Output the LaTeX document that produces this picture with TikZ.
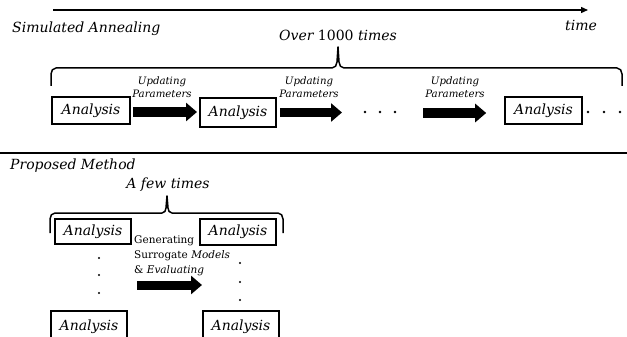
\documentclass[tikz,border=0pt]{standalone}
\usepackage{fontspec}
\setmainfont{DejaVu Serif}
\usetikzlibrary{arrows.meta}
\begin{document}
\begin{tikzpicture}[x=1pt,y=-1pt,
  box/.style={draw, line width=1.6pt, inner sep=0pt, font=\fontsize{14}{16}\selectfont\itshape},
  blockarrow/.style={line width=9pt, -{Triangle[width=18pt,length=11pt]}},
  lbl/.style={font=\fontsize{10.2}{12.5}\selectfont\itshape, align=center, inner sep=0pt},
  ttl/.style={font=\fontsize{14}{16}\selectfont\itshape, inner sep=0pt},
  dot/.style={fill, circle, inner sep=0pt, minimum size=2.6pt},
  brace/.style={line width=1.5pt, line join=round}]
\clip (0,0) rectangle (627,337);
\useasboundingbox (0,0) rectangle (627,337);
\fill[white] (0,0) rectangle (627,337);

% time arrow
\coordinate (t0) at (53,10);
\coordinate (t1) at (588,10);
\draw[line width=1.3pt, -{Triangle[width=6pt,length=7pt]}] (t0) -- (t1);
\node[ttl] (time) at (581,25) {time};
\node[ttl, anchor=west] (sa) at (12,29) {Simulated Annealing};
\node[ttl] (over) at (338,35) {Over \upshape 1000 \itshape times};

% top brace
\draw[brace] (51,86) -- (51,74) to[out=90,in=180] (56,68) -- (332,68)
  to[out=0,in=-90] (337,62) -- (338,47) -- (339,62) to[out=-90,in=180] (344,68)
  -- (617,68) to[out=0,in=90] (622,74) -- (622,86);

% row 1 boxes
\node[box, minimum width=78pt, minimum height=27pt] (a1) at (91,110.5) {Analysis};
\node[box, minimum width=76pt, minimum height=29pt] (a2) at (238,112.5) {Analysis};
\node[box, minimum width=77pt, minimum height=27pt] (a3) at (543.5,110.5) {Analysis};
\foreach \x/\n in {365/p1,380/p2,395/p3,588/q1,604/q2,620/q3} \node[dot] (\n) at (\x,112) {};
\coordinate (s3) at (423,113);

\draw[blockarrow] (a1.east |- 0,112) ++(2,0) coordinate (e1) -- (197,112);
\draw[blockarrow] (a2.east) ++(3,0) -- (342,112.5);
\draw[blockarrow] (s3) -- ([xshift=-18pt]a3.west |- s3);

\node[lbl] (u1) at (162,87) {Updating\\Parameters};
\node[lbl] (u2) at (309,87) {Updating\\Parameters};
\node[lbl] (u3) at (455,87) {Updating\\Parameters};

% separator
\draw[line width=1.8pt] (0,153) -- (627,153);
\node[ttl, anchor=west] (pm) at (10,166) {Proposed Method};
\node[ttl] (few) at (168,185) {A few times};

% lower brace
\draw[brace] (50,233) -- (50,219) to[out=90,in=180] (55,213) -- (162,213)
  to[out=0,in=-90] (166,208) -- (167,196) -- (168,208) to[out=-90,in=180] (172,213)
  -- (278,213) to[out=0,in=90] (283,219) -- (283,233);

% lower boxes
\node[box, minimum width=76pt, minimum height=25pt] (b1) at (93,231.5) {Analysis};
\node[box, minimum width=76pt, minimum height=26pt] (c1) at (238,232) {Analysis};
\node[box, minimum width=76pt, minimum height=32pt, anchor=north] (b2) at (89,310) {Analysis};
\node[box, minimum width=76pt, minimum height=32pt, anchor=north] (c2) at (241,310) {Analysis};

\foreach \y/\n in {258/l1,275/l2,293/l3} \node[dot, minimum size=2.4pt] (\n) at (99,\y) {};
\foreach \y/\n in {263/r1,282/r2,300/r3} \node[dot, minimum size=2.4pt] (\n) at (240,\y) {};

\node[lbl, align=left, anchor=north west, font=\fontsize{10.5}{14.8}\selectfont] (gen) at (134,235.5)
  {Generating\\Surrogate \itshape Models\\\upshape\& \itshape Evaluating};
\coordinate (g0) at (137,285);
\draw[blockarrow] (g0) -- (202,285);
\end{tikzpicture}
\end{document}
